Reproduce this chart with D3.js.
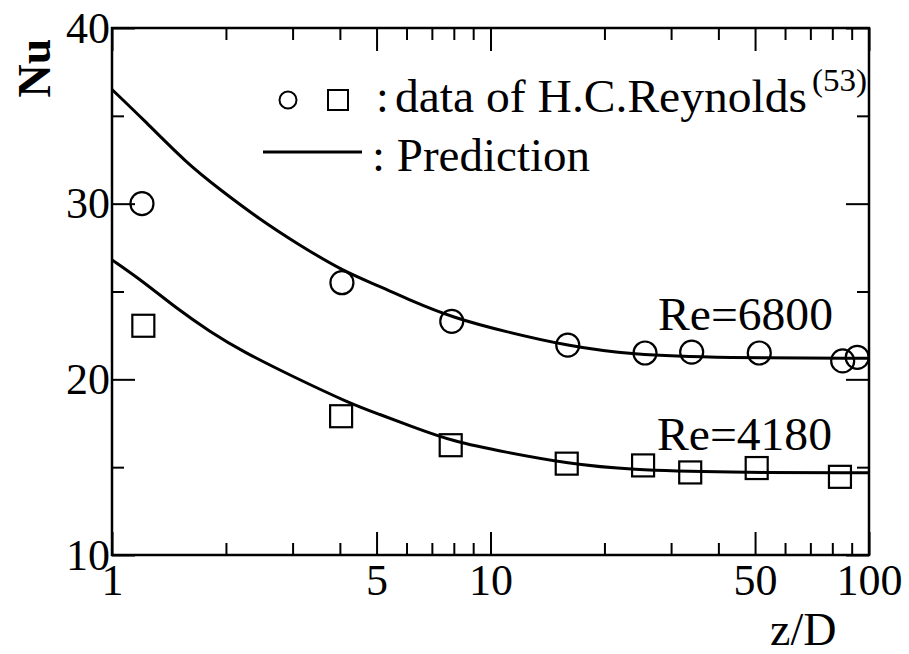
<html>
<script src="https://d3js.org/d3.v7.min.js"></script>
<style>
body{margin:0;background:#fff;}
</style>
<div id="chart"></div>
<script>
const width = 909;
const height = 654;
const serif = '"Liberation Serif", "DejaVu Serif", "Times New Roman", Times, serif';

// tick values
const xMajor = [1, 5, 10, 50, 100];
const xMinor = [2, 3, 4, 6, 7, 8, 9, 20, 30, 40, 60, 70, 80, 90];
const yMajor = [10, 20, 30, 40];
const yMinor = [15, 25, 35];

// data of H.C.Reynolds, Re=6800 (circles)
const circleX = [1.2, 4.05, 7.9, 16.0, 25.6, 34.0, 51.3, 85.2, 93.1];
const circleY = [30.0, 25.5, 23.3, 21.95, 21.5, 21.55, 21.5, 21.05, 21.25];
// data of H.C.Reynolds, Re=4180 (squares)
const squareX = [1.21, 4.03, 7.85, 15.9, 25.3, 33.7, 50.5, 83.8];
const squareY = [23.05, 17.9, 16.25, 15.2, 15.1, 14.7, 14.95, 14.45];

// prediction curves
const pred6800X = [1, 1.21, 1.575, 1.93, 2.46, 3.07, 4.08, 5.1, 6.13, 7.97, 11, 16, 23.4, 41, 100];
const pred6800Y = [36.5, 34.8, 32.3, 30.8, 29.1, 27.75, 26.15, 25.3, 24.5, 23.5, 22.7, 21.9, 21.4, 21.22, 21.2];
const pred4180X = [1, 1.21, 1.48, 1.815, 2.22, 3.01, 4.25, 5.1, 6.13, 7.97, 11, 16, 23.4, 41, 100];
const pred4180Y = [26.8, 25.56, 24.04, 22.71, 21.57, 20.15, 18.63, 18.0, 17.35, 16.45, 15.85, 15.2, 14.84, 14.7, 14.68];

const margin = {top: 28, left: 112, bottom: 99, right: 40};
const plotWidth = width - margin.left - margin.right;
const plotHeight = height - margin.top - margin.bottom;

const x = d3.scaleLog().domain([1, 100]).range([0, plotWidth]);
const y = d3.scaleLinear().domain([10, 40]).range([plotHeight, 0]);

const svg = d3.select('#chart').append('svg')
  .attr('width', width)
  .attr('height', height)
  .attr('font-family', serif);

const g = svg.append('g')
  .attr('transform', `translate(${margin.left},${margin.top})`);

const bigTick = 23, smallTick = 12;

function addAxis(axis, transform){
  const a = g.append('g').attr('transform', transform).call(axis);
  a.attr('font-family', serif);
  a.select('.domain').remove();
  a.selectAll('line').attr('stroke', '#000').attr('stroke-width', 2);
  a.selectAll('text').attr('font-size', 44).attr('fill', '#000');
  return a;
}

// bottom
addAxis(d3.axisBottom(x).tickValues(xMajor).tickSize(-bigTick).tickPadding(9)
  .tickFormat(d3.format('d')), `translate(0,${plotHeight})`);
addAxis(d3.axisBottom(x).tickValues(xMinor).tickSize(-smallTick).tickFormat(''),
  `translate(0,${plotHeight})`);
// top
addAxis(d3.axisTop(x).tickValues(xMajor).tickSize(-bigTick).tickFormat(''), 'translate(0,0)');
addAxis(d3.axisTop(x).tickValues(xMinor).tickSize(-smallTick).tickFormat(''), 'translate(0,0)');
// left
addAxis(d3.axisLeft(y).tickValues(yMajor).tickSize(-bigTick).tickPadding(2)
  .tickFormat(d3.format('d')), 'translate(0,0)');
addAxis(d3.axisLeft(y).tickValues(yMinor).tickSize(-smallTick).tickFormat(''), 'translate(0,0)');
// right
addAxis(d3.axisRight(y).tickValues(yMajor).tickSize(-bigTick).tickFormat(''), `translate(${plotWidth},0)`);
addAxis(d3.axisRight(y).tickValues(yMinor).tickSize(-smallTick).tickFormat(''), `translate(${plotWidth},0)`);

// frame
g.append('rect')
  .attr('width', plotWidth).attr('height', plotHeight)
  .attr('fill', 'none').attr('stroke', '#000').attr('stroke-width', 2.5);

// prediction curves
const line = d3.line()
  .x(d => x(d[0]))
  .y(d => y(d[1]))
  .curve(d3.curveBasis);

[[pred6800X, pred6800Y], [pred4180X, pred4180Y]].forEach(([xs, ys]) => {
  g.append('path')
    .datum(xs.map((v, i) => [v, ys[i]]))
    .attr('d', line)
    .attr('fill', 'none')
    .attr('stroke', '#000')
    .attr('stroke-width', 3);
});

// circles
g.selectAll('circle.pt')
  .data(circleX.map((v, i) => [v, circleY[i]]))
  .enter().append('circle')
    .attr('class', 'pt')
    .attr('cx', d => x(d[0]))
    .attr('cy', d => y(d[1]))
    .attr('r', 11.5)
    .attr('fill', 'none')
    .attr('stroke', '#000')
    .attr('stroke-width', 2.2);

// squares
const sq = 22;
g.selectAll('rect.pt')
  .data(squareX.map((v, i) => [v, squareY[i]]))
  .enter().append('rect')
    .attr('class', 'pt')
    .attr('x', d => x(d[0]) - sq / 2)
    .attr('y', d => y(d[1]) - sq / 2)
    .attr('width', sq)
    .attr('height', sq)
    .attr('fill', 'none')
    .attr('stroke', '#000')
    .attr('stroke-width', 2.2);

// legend
svg.append('circle').attr('cx', 288).attr('cy', 100).attr('r', 8.5)
  .attr('fill', 'none').attr('stroke', '#000').attr('stroke-width', 2);
svg.append('rect').attr('x', 328).attr('y', 90).attr('width', 20).attr('height', 20)
  .attr('fill', 'none').attr('stroke', '#000').attr('stroke-width', 2);
svg.append('text').attr('x', 376).attr('y', 112).attr('font-size', 46).text(':');
svg.append('text').attr('x', 395).attr('y', 112).attr('font-size', 46)
  .attr('textLength', 412).attr('lengthAdjust', 'spacingAndGlyphs')
  .text('data of H.C.Reynolds');
svg.append('text').attr('x', 812).attr('y', 91).attr('font-size', 31)
  .attr('textLength', 55).attr('lengthAdjust', 'spacingAndGlyphs')
  .text('(53)');

svg.append('line').attr('x1', 263).attr('x2', 362).attr('y1', 152).attr('y2', 152)
  .attr('stroke', '#000').attr('stroke-width', 3);
svg.append('text').attr('x', 372).attr('y', 171).attr('font-size', 46)
  .attr('textLength', 218).attr('lengthAdjust', 'spacingAndGlyphs')
  .text(': Prediction');

// curve labels
svg.append('text').attr('x', 658).attr('y', 330).attr('font-size', 46)
  .attr('textLength', 175).attr('lengthAdjust', 'spacingAndGlyphs').text('Re=6800');
svg.append('text').attr('x', 657).attr('y', 450).attr('font-size', 46)
  .attr('textLength', 175).attr('lengthAdjust', 'spacingAndGlyphs').text('Re=4180');

// axis titles
svg.append('text').attr('x', 770).attr('y', 645).attr('font-size', 46).text('z/D');
svg.append('text')
  .attr('transform', 'translate(50,68) rotate(-90)')
  .attr('text-anchor', 'middle')
  .attr('font-size', 46)
  .attr('font-weight', 'bold')
  .text('Nu');
</script>
</html>
